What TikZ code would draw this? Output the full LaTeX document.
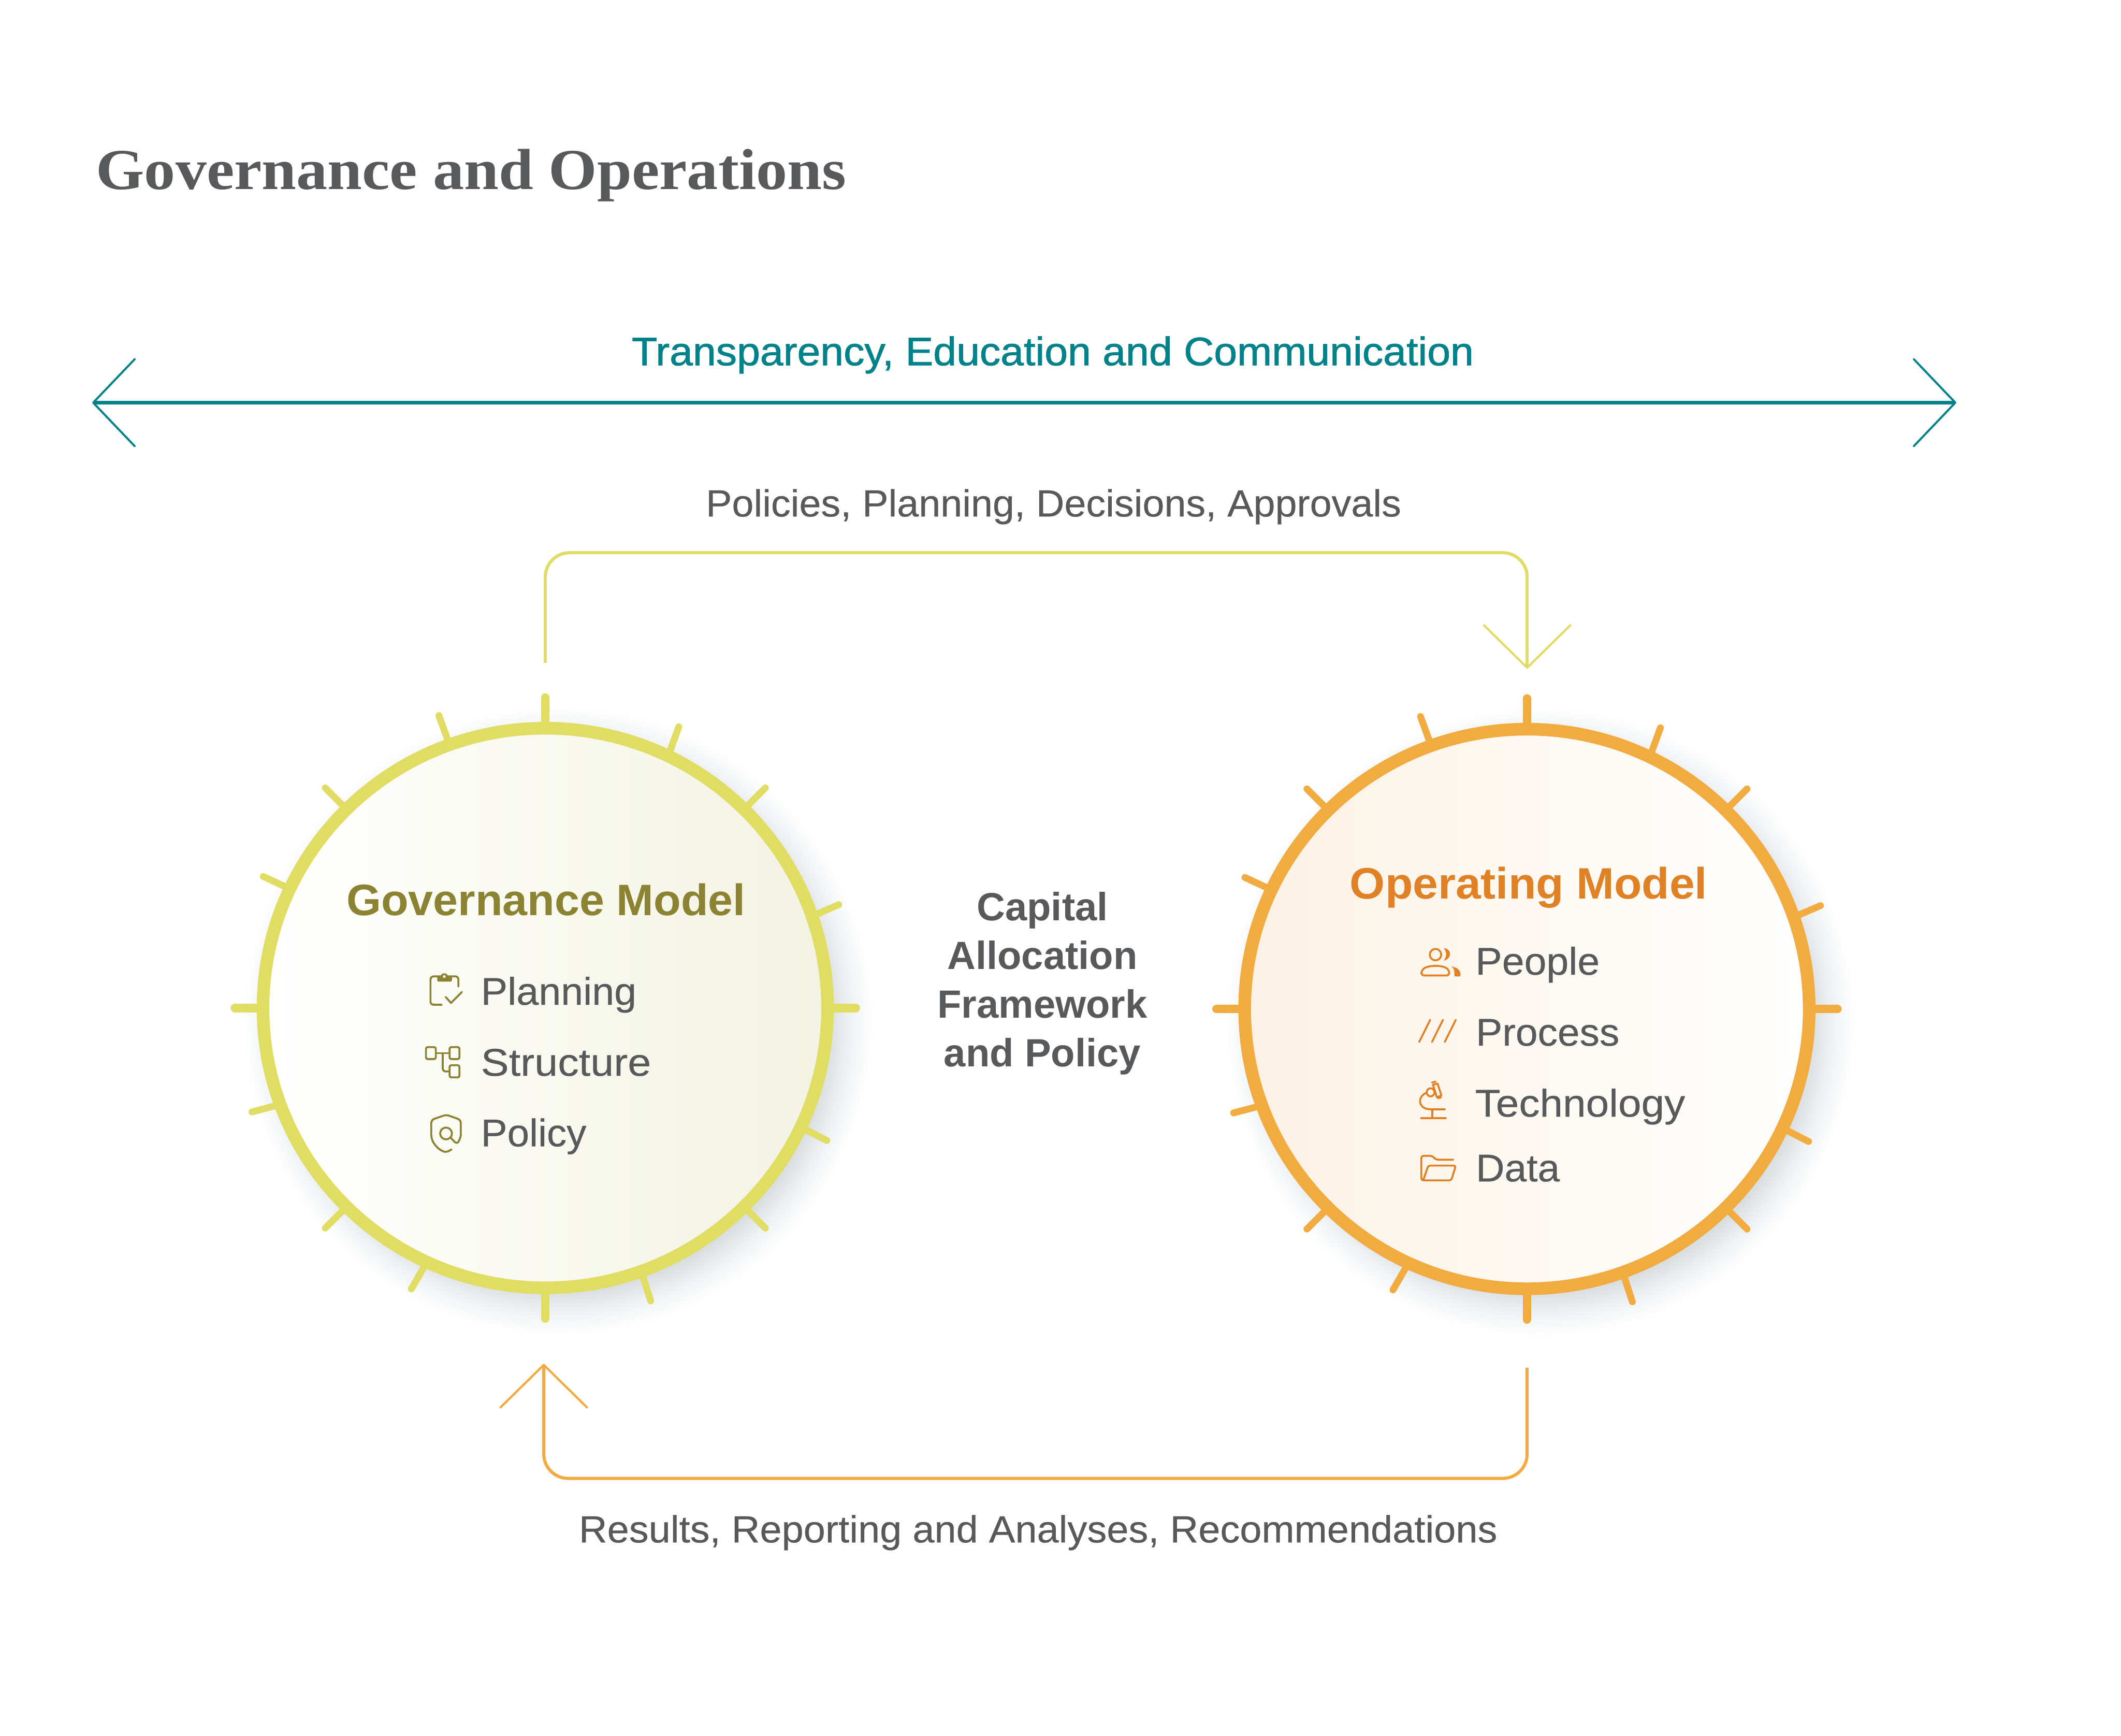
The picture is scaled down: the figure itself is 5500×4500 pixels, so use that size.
\documentclass[tikz,border=0pt]{standalone}
\usepackage{fontspec}
\setmainfont{Liberation Sans}
\newfontfamily\titlefont[FakeStretch=1.075]{Liberation Serif}
\usetikzlibrary{arrows.meta,calc,shadings,shapes.geometric}
\definecolor{txtgray}{HTML}{58595B}
\definecolor{teal1}{HTML}{00828A}
\definecolor{yel}{HTML}{E1DC63}
\definecolor{olive}{HTML}{8B8332}
\definecolor{org}{HTML}{F2AB41}
\definecolor{orgtxt}{HTML}{E08126}
\definecolor{shcore}{HTML}{D9DEE1}
\definecolor{shmid}{HTML}{EDF0F2}
\definecolor{govR}{HTML}{F2F3E1}
\definecolor{opL}{HTML}{FBF2E4}
\pgfdeclareradialshading{softsh}{\pgfpoint{0bp}{0bp}}{color(0bp)=(shcore); color(21.5bp)=(shcore); color(23bp)=(shmid); color(25bp)=(white); color(50bp)=(white)}
\newcommand\fpx[1]{\fontsize{\the\dimexpr 0.28453pt*#1\relax}{\the\dimexpr 0.3514pt*#1\relax}\selectfont}
\newcommand\st[1]{\addfontfeature{FakeStretch=#1,FakeBold=0.35}}
\tikzset{
  lab/.style={inner sep=0pt,outer sep=0pt,anchor=base west,text=txtgray},
  labc/.style={inner sep=0pt,outer sep=0pt,anchor=base,text=txtgray},
  item/.style={lab,font=\fpx{100}\st{#1}},
  ball/.style={ellipse,minimum width=14.63cm,minimum height=14.50cm,inner sep=0pt,outer sep=0pt,line width=9.3pt,draw=#1},
  conn/.style={line width=2.3pt,draw=#1,rounded corners=18pt,
    -{Straight Barb[length=31.3pt,width=63.7pt,line width=1.6pt,round]}},
  thick tick/.style={line width=6.3pt,line cap=round},
  thin tick/.style={line width=5pt,line cap=round},
  icong/.style={line width=1.4pt,draw=olive,line cap=round,line join=round},
  icono/.style={line width=1.4pt,draw=orgtxt,line cap=round,line join=round},
}
\newcommand\ticks[2]{%
  \foreach \a in {90,0,180,-90}
    \draw[thick tick,#2] (#1.\a) -- ($(#1.center)+({805*cos(\a)},{-805*sin(\a)})$);
  \foreach \a in {110,64.6,45,19.4,-25.2,-45,-70.2,-115.5,-135,-160.5,155,135}
    \draw[thin tick,#2] (#1.\a) -- ($(#1.center)+({807*cos(\a)},{-807*sin(\a)})$);
}
\begin{document}
\begin{tikzpicture}[x=0.01cm,y=-0.01cm]
\useasboundingbox (0,0) rectangle (5500,4500);
\fill[white] (0,0) rectangle (5500,4500);

\node[lab,font=\titlefont\bfseries\fpx{150}] (title) at (249,491) {Governance and Operations};

% Top double arrow
\coordinate (tL) at (239,1044);
\coordinate (tR) at (5073,1044);
\draw[line width=2.5pt,teal1,{Straight Barb[length=30.7pt,width=64.3pt,line width=1.5pt,round]}-{Straight Barb[length=30.7pt,width=64.3pt,line width=1.5pt,round]}] (tL) -- (tR);
\node[labc,text=teal1,font=\fpx{103}\addfontfeature{FakeStretch=1.05,FakeBold=1.2}] (trans) at (2730,947) {Transparency, Education and Communication};
\node[labc,font=\fpx{98}\st{1.034}] (pol) at (2732,1339) {Policies, Planning, Decisions, Approvals};
\node[labc,font=\fpx{98}\st{1.038}] (res) at (2692,3999) {Results, Reporting and Analyses, Recommendations};

% shadows
\path[shading=softsh] (1448,2647) circle (815);
\path[shading=softsh] (3994,2650) circle (815);

% balls
\node[ball=yel,left color=white,right color=govR] (gov) at (1414,2613.5) {};
\node[ball=org,left color=opL,right color=white] (op) at (3959.5,2616) {};
\ticks{gov}{yel}
\ticks{op}{org}

% connectors
\coordinate (a1) at (1414,1719);
\coordinate (a2) at (1414,1433);
\coordinate (a3) at (3960,1433);
\coordinate (a4) at (3960,1734);
\draw[conn=yel] (a1) -- (a2) -- (a3) -- (a4);
\coordinate (b1) at (3960,3546);
\coordinate (b2) at (3960,3833);
\coordinate (b3) at (1410,3833);
\coordinate (b4) at (1410,3536);
\draw[conn=org] (b1) -- (b2) -- (b3) -- (b4);

% headings
\node[labc,text=olive,font=\bfseries\fpx{114}\addfontfeature{FakeStretch=1.014}] (govh) at (1416,2373) {Governance Model};
\node[labc,text=orgtxt,font=\bfseries\fpx{114}\addfontfeature{FakeStretch=1.03}] (oph) at (3964,2330) {Operating Model};

% items
\node[item=1.036] (i1) at (1247,2605) {Planning};
\node[item=1.087] (i2) at (1247,2789) {Structure};
\node[item=1.025] (i3) at (1247,2972) {Policy};
\node[item=1.034] (o1) at (3826,2527) {People};
\node[item=1.03] (o2) at (3827,2711) {Process};
\node[item=1.076] (o3) at (3825,2895) {Technology};
\node[item=1.03] (o4) at (3827,3063) {Data};

% centre
\node[inner sep=0pt,outer sep=0pt,align=center,text=txtgray,font=\bfseries\fpx{102}] (cap) at (2703,2550) {Capital\\Allocation\\Framework\\and Policy};

% left icons
\begin{scope}[shift={(1000,2450)},xscale=0.5102,yscale=0.3827]
  \draw[icong,rounded corners=2pt] (285,405) -- (228,405) -- (228,213) -- (370,213) -- (370,282);
  \fill[olive,rounded corners=1pt] (262,213) rectangle (337,248);
  \fill[olive] (298,212) circle [x radius=18,y radius=20];
  \fill[govR!30!white] (298,214) circle [x radius=7,y radius=10];
  \draw[icong] (305,352) -- (332,393) -- (388,318);
  \draw[icong,rounded corners=1.2pt] (205,692) rectangle (255,773);
  \draw[icong,rounded corners=1.2pt] (325,692) rectangle (375,773);
  \draw[icong,rounded corners=1.2pt] (325,815) rectangle (375,897);
  \draw[icong] (255,733) -- (325,733);
  \draw[icong,rounded corners=2pt] (290,733) -- (290,857) -- (325,857);
  \draw[icong,rounded corners=2pt] (335,1385) -- (310,1405) .. controls (270,1390) and (232,1340) .. (232,1270) -- (232,1185) -- (308,1150) -- (382,1185) -- (382,1270) .. controls (382,1300) and (372,1330) .. (362,1350) -- (330,1305);
  \draw[icong] (307,1277) circle [x radius=30,y radius=40];
\end{scope}

% right icons
\begin{scope}[shift={(3600,2400)},xscale=0.5102,yscale=0.4785]
  \draw[icono] (240,157) circle [x radius=29,y radius=31];
  \fill[orgtxt] (282,122) .. controls (318,122) and (330,175) .. (282,190) .. controls (298,165) and (298,145) .. (282,122) -- cycle;
  \draw[icono,rounded corners=2pt] (168,270) -- (168,245) .. controls (200,212) and (280,212) .. (310,245) -- (310,270) -- cycle;
  \fill[orgtxt,rounded corners=1pt] (322,222) .. controls (350,228) and (367,240) .. (367,275) -- (335,275) .. controls (337,250) and (335,235) .. (322,222) -- cycle;
  \draw[icono] (157,630) -- (213,510);
  \draw[icono] (222,630) -- (278,510);
  \draw[icono] (287,630) -- (343,510);
  \draw[icono] (167,1042) -- (292,1042);
  \draw[icono] (223,1042) -- (223,995);
  \draw[icono] (288,995) -- (215,995) .. controls (150,995) and (145,925) .. (195,905);
  \draw[icono] (215,903) circle [x radius=20,y radius=22];
  \draw[icono] (227,862) -- (250,855) -- (270,920) -- (247,930) -- cycle;
  \draw[icono] (222,850) -- (240,845);
  \draw[icono] (252,935) -- (268,930);
  \draw[icono,rounded corners=1.5pt] (330,1268) -- (243,1268) -- (222,1247) -- (168,1247) -- (168,1380) -- (320,1380) -- (343,1300) -- (203,1300) -- (178,1378);
\end{scope}
\end{tikzpicture}
\end{document}
